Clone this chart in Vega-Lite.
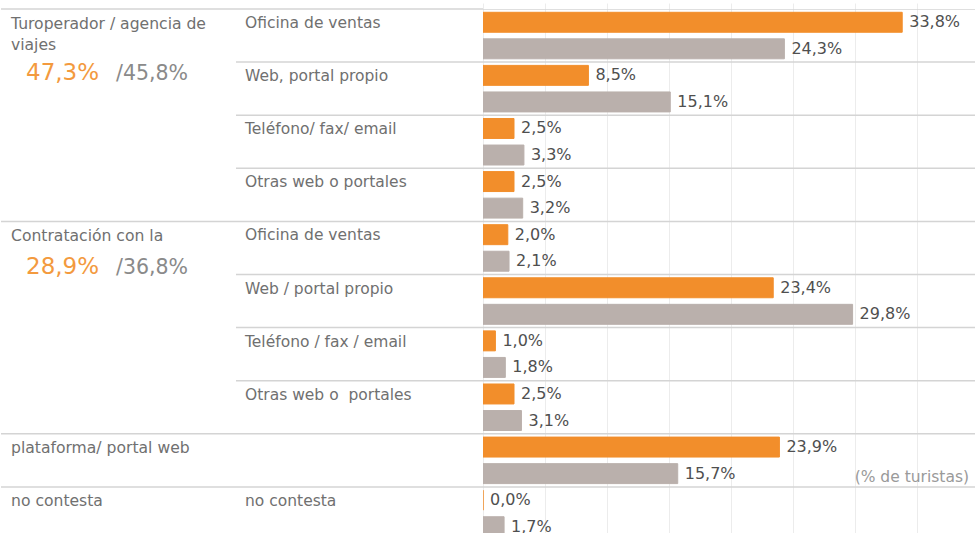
{
  "$schema": "https://vega.github.io/schema/vega-lite/v6.json",
  "padding": {"left": 0, "top": 8, "right": 0, "bottom": 0},
  "bounds": "flush",
  "spacing": 0,
  "config": {
    "view": {"stroke": null},
    "font": "DejaVu Sans",
    "locale": {"number": {"decimal": ",", "thousands": ".", "grouping": [3], "currency": ["", " €"]}}
  },
  "datasets": {
    "filas": [
      {"fila": "T1", "sub": "Oficina de ventas", "serie": "actual", "valor": 0.338},
      {"fila": "T1", "sub": "Oficina de ventas", "serie": "anterior", "valor": 0.243},
      {"fila": "T2", "sub": "Web, portal propio", "serie": "actual", "valor": 0.085},
      {"fila": "T2", "sub": "Web, portal propio", "serie": "anterior", "valor": 0.151},
      {"fila": "T3", "sub": "Teléfono/ fax/ email", "serie": "actual", "valor": 0.025},
      {"fila": "T3", "sub": "Teléfono/ fax/ email", "serie": "anterior", "valor": 0.033},
      {"fila": "T4", "sub": "Otras web o portales", "serie": "actual", "valor": 0.025},
      {"fila": "T4", "sub": "Otras web o portales", "serie": "anterior", "valor": 0.032},
      {"fila": "C1", "sub": "Oficina de ventas", "serie": "actual", "valor": 0.020},
      {"fila": "C1", "sub": "Oficina de ventas", "serie": "anterior", "valor": 0.021},
      {"fila": "C2", "sub": "Web / portal propio", "serie": "actual", "valor": 0.234},
      {"fila": "C2", "sub": "Web / portal propio", "serie": "anterior", "valor": 0.298},
      {"fila": "C3", "sub": "Teléfono / fax / email", "serie": "actual", "valor": 0.010},
      {"fila": "C3", "sub": "Teléfono / fax / email", "serie": "anterior", "valor": 0.018},
      {"fila": "C4", "sub": "Otras web o\u00a0 portales", "serie": "actual", "valor": 0.025},
      {"fila": "C4", "sub": "Otras web o\u00a0 portales", "serie": "anterior", "valor": 0.031},
      {"fila": "P", "sub": "", "serie": "actual", "valor": 0.239},
      {"fila": "P", "sub": "", "serie": "anterior", "valor": 0.157},
      {"fila": "N", "sub": "no contesta", "serie": "actual", "valor": 0.000},
      {"fila": "N", "sub": "no contesta", "serie": "anterior", "valor": 0.017}
    ],
    "grupos": [
      {"fila": "T1", "etiqueta": ["Turoperador / agencia de", "viajes"], "pct_act": "47,3%", "pct_ant": "/45,8%"},
      {"fila": "C1", "etiqueta": ["Contratación con la"], "pct_act": "28,9%", "pct_ant": "/36,8%"},
      {"fila": "P", "etiqueta": ["plataforma/ portal web"]},
      {"fila": "N", "etiqueta": ["no contesta"]}
    ]
  },
  "hconcat": [
    {
      "width": 235,
      "height": 525,
      "data": {"name": "grupos"},
      "layer": [
        {
          "mark": {"type": "rule", "color": "#d4d4d4", "strokeWidth": 1.5},
          "encoding": {
            "y": {"field": "fila", "type": "nominal", "sort": null, "axis": null, "bandPosition": 0,
              "scale": {"domain": ["T1","T2","T3","T4","C1","C2","C3","C4","P","N"], "range": [0, 531], "paddingInner": 0, "paddingOuter": 0}}
          }
        },
        {
          "mark": {"type": "text", "align": "left", "baseline": "alphabetic", "dx": 10, "dy": 19.5, "fontSize": 15.6, "lineHeight": 21.5, "color": "#707070"},
          "encoding": {
            "x": {"value": 0},
            "y": {"field": "fila", "type": "nominal", "bandPosition": 0},
            "text": {"field": "etiqueta"}
          }
        },
        {
          "transform": [{"filter": "datum.fila == 'T1'"}],
          "mark": {"type": "text", "align": "left", "baseline": "alphabetic", "dx": 25, "dy": 70.9, "fontSize": 23, "color": "#F39A3E"},
          "encoding": {
            "x": {"value": 0},
            "y": {"field": "fila", "type": "nominal", "bandPosition": 0},
            "text": {"field": "pct_act"}
          }
        },
        {
          "transform": [{"filter": "datum.fila == 'T1'"}],
          "mark": {"type": "text", "align": "left", "baseline": "alphabetic", "dx": 115, "dy": 70.9, "fontSize": 20.5, "color": "#8a8a8a"},
          "encoding": {
            "x": {"value": 0},
            "y": {"field": "fila", "type": "nominal", "bandPosition": 0},
            "text": {"field": "pct_ant"}
          }
        },
        {
          "transform": [{"filter": "datum.fila == 'C1'"}],
          "mark": {"type": "text", "align": "left", "baseline": "alphabetic", "dx": 25, "dy": 52.2, "fontSize": 23, "color": "#F39A3E"},
          "encoding": {
            "x": {"value": 0},
            "y": {"field": "fila", "type": "nominal", "bandPosition": 0},
            "text": {"field": "pct_act"}
          }
        },
        {
          "transform": [{"filter": "datum.fila == 'C1'"}],
          "mark": {"type": "text", "align": "left", "baseline": "alphabetic", "dx": 115, "dy": 52.2, "fontSize": 20.5, "color": "#8a8a8a"},
          "encoding": {
            "x": {"value": 0},
            "y": {"field": "fila", "type": "nominal", "bandPosition": 0},
            "text": {"field": "pct_ant"}
          }
        }
      ]
    },
    {
      "width": 247,
      "height": 525,
      "data": {"name": "filas"},
      "transform": [{"filter": "datum.serie == 'actual'"}],
      "layer": [
        {
          "mark": {"type": "rule", "color": "#d4d4d4", "strokeWidth": 1.5},
          "encoding": {
            "y": {"field": "fila", "type": "nominal", "sort": null, "axis": null, "bandPosition": 0,
              "scale": {"domain": ["T1","T2","T3","T4","C1","C2","C3","C4","P","N"], "range": [0, 531], "paddingInner": 0, "paddingOuter": 0}}
          }
        },
        {
          "transform": [{"filter": "datum.sub != ''"}],
          "mark": {"type": "text", "align": "left", "baseline": "alphabetic", "dx": 9, "dy": 19, "fontSize": 15.5, "color": "#707070"},
          "encoding": {
            "x": {"value": 0},
            "y": {"field": "fila", "type": "nominal", "bandPosition": 0},
            "text": {"field": "sub"}
          }
        }
      ]
    },
    {
      "width": 493,
      "height": 525,
      "data": {"name": "filas"},
      "layer": [
        {
          "transform": [{"filter": "datum.serie == 'actual'"}],
          "mark": {"type": "rule", "color": "#d4d4d4", "strokeWidth": 1.5, "clip": true},
          "encoding": {
            "y": {"field": "fila", "type": "nominal", "sort": null, "axis": null, "bandPosition": 0,
              "scale": {"domain": ["T1","T2","T3","T4","C1","C2","C3","C4","P","N"], "range": [0, 531], "paddingInner": 0, "paddingOuter": 0}}
          }
        },
        {
          "mark": {"type": "bar", "clip": true, "strokeWidth": 1},
          "encoding": {
            "x": {"field": "valor", "type": "quantitative",
              "scale": {"domain": [0, 0.3975], "nice": false, "zero": true},
              "axis": {"values": [0, 0.05, 0.1, 0.15, 0.2, 0.25, 0.3, 0.35], "grid": true, "gridColor": "#ececec", "gridWidth": 1,
                "labels": false, "ticks": false, "domain": false, "title": null, "minExtent": 0, "maxExtent": 0}},
            "y": {"field": "fila", "type": "nominal"},
            "yOffset": {"field": "serie", "type": "nominal",
              "scale": {"domain": ["actual", "anterior"], "paddingInner": 0.248, "paddingOuter": 0.124}},
            "color": {"field": "serie", "type": "nominal",
              "scale": {"domain": ["actual", "anterior"], "range": ["#F28E2B", "#BAB0AC"]}, "legend": null},
            "stroke": {"field": "serie", "type": "nominal",
              "scale": {"domain": ["actual", "anterior"], "range": ["#F28E2B", "#BAB0AC"]}, "legend": null}
          }
        },
        {
          "mark": {"type": "text", "align": "left", "baseline": "middle", "dx": 7, "dy": 0, "fontSize": 16, "color": "#4f4f4f", "clip": true},
          "encoding": {
            "x": {"field": "valor", "type": "quantitative"},
            "y": {"field": "fila", "type": "nominal"},
            "yOffset": {"field": "serie", "type": "nominal"},
            "text": {"field": "valor", "type": "quantitative", "format": ".1%"}
          }
        },
        {
          "data": {"values": [{"fila": "P", "serie": "anterior", "nota": "(% de turistas)"}]},
          "mark": {"type": "text", "align": "right", "baseline": "middle", "dx": -7, "dy": 3, "fontSize": 15.5, "color": "#9a9a9a", "clip": true},
          "encoding": {
            "x": {"datum": 0.3975},
            "y": {"field": "fila", "type": "nominal"},
            "yOffset": {"field": "serie", "type": "nominal"},
            "text": {"field": "nota"}
          }
        }
      ]
    }
  ]
}
